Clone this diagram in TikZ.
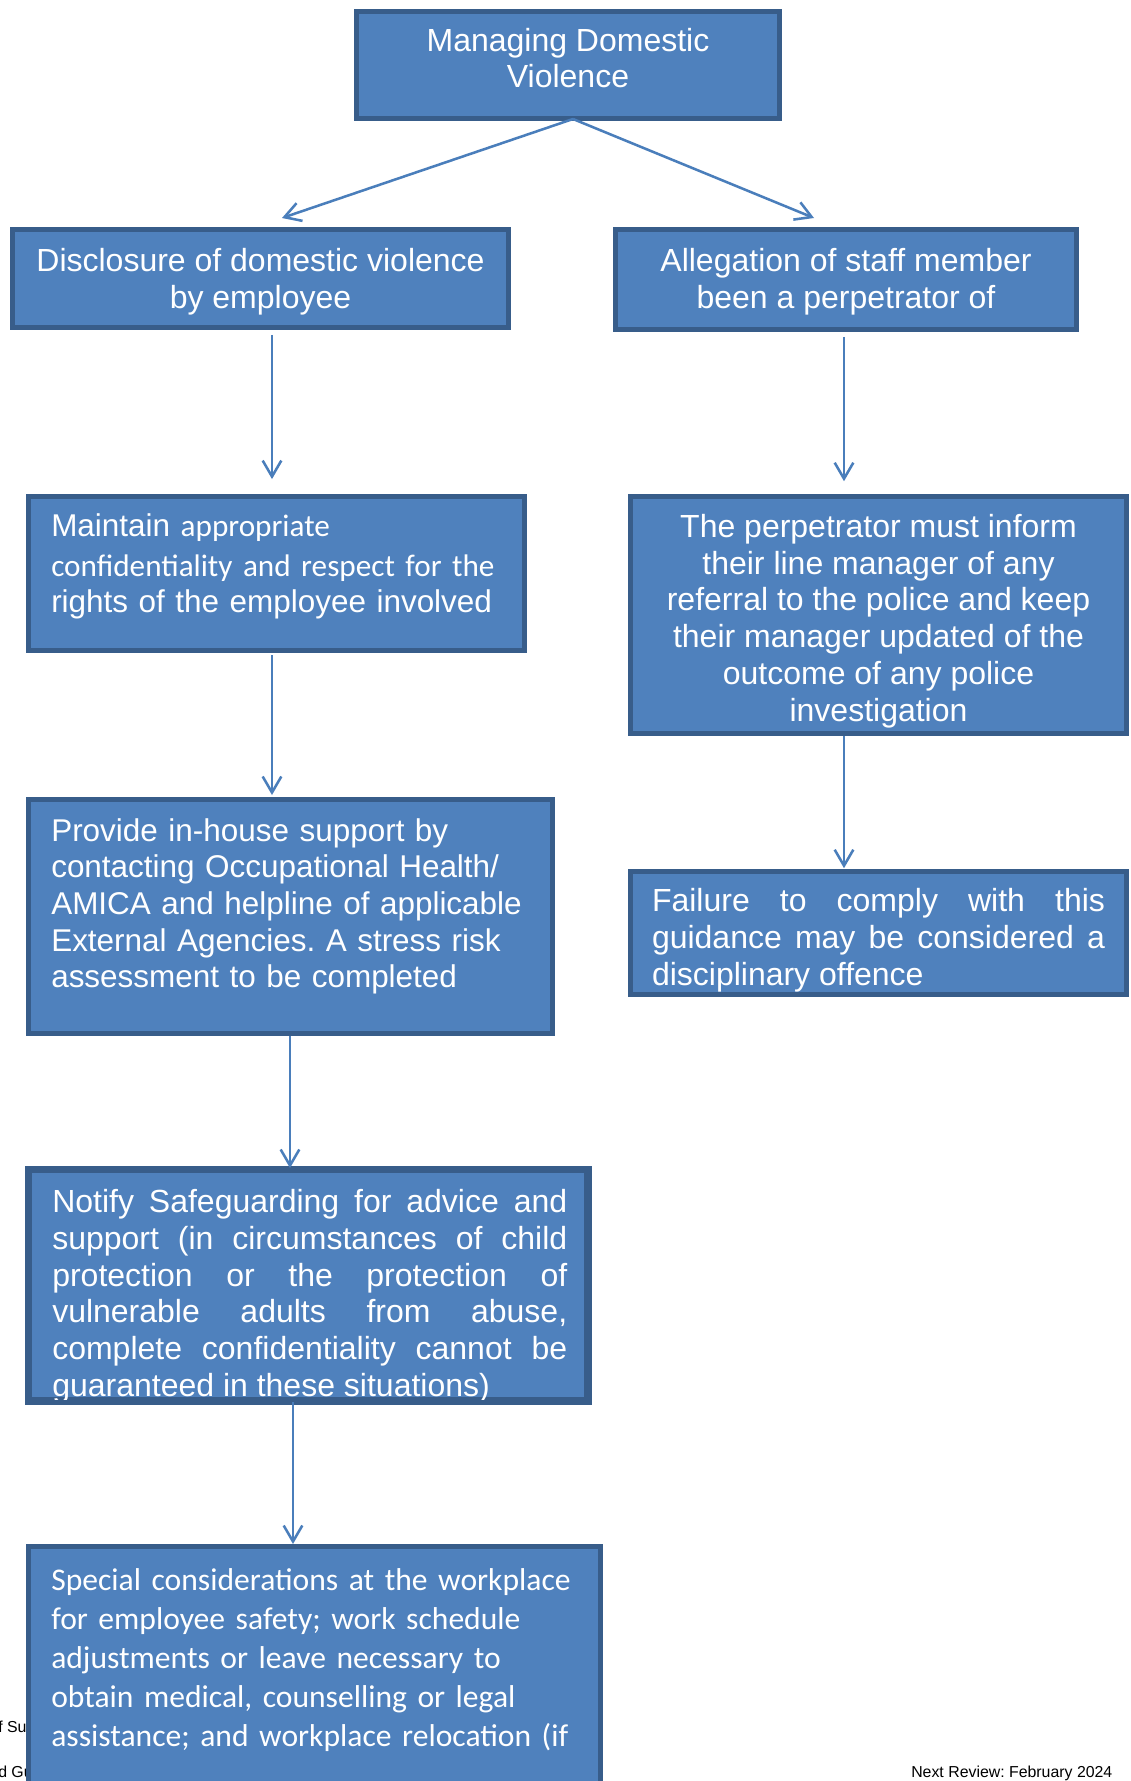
\documentclass[tikz,border=0pt]{standalone}
\usepackage{fontspec}
\setmainfont{Liberation Sans}
\newfontfamily\calib{Carlito}
\usetikzlibrary{arrows.meta}
\definecolor{boxfill}{RGB}{79,129,189}
\definecolor{boxline}{RGB}{56,93,138}
\definecolor{arrowcol}{RGB}{74,126,187}
\frenchspacing
\begin{document}
\begin{tikzpicture}[x=0.75pt,y=-0.75pt,
  box/.style={fill=boxfill, draw=boxline, line width=3.75pt, inner sep=0pt},
  boxtext/.style={text=white, inner sep=0pt, font=\frenchspacing\fontsize{24}{27.6}\selectfont},
  border/.style={draw=boxline, line width=3.75pt},
  arr/.style={draw=arrowcol, line width=1.9pt, -{Straight Barb[length=12pt,width=14pt]}},
  foot/.style={font=\fontsize{11.9}{14}\selectfont, inner sep=0pt, text=black}
]
\useasboundingbox (0,0) rectangle (1131,1781);
\clip (0,0) rectangle (1131,1781);
\fill[white] (0,0) rectangle (1131,1781);

% footer fragments (partly hidden behind the last box)
\node[foot, anchor=base west] (f1) at (-2,1732) {f Su};
\node[foot, anchor=base west] (f2) at (-2,1777) {d Gu};
\node[foot, anchor=base west] (f3) at (911,1777) {Next Review: February 2024};

% boxes and their texts
\node[box, minimum width=423*0.75pt, minimum height=107*0.75pt] (b1) at (568,65) {};
\node[boxtext, align=center] (t1) at (568,58) {Managing Domestic\\Violence};

\node[box, minimum width=496*0.75pt, minimum height=98*0.75pt] (b2) at (260.5,278.5) {};
\node[boxtext, align=center] (t2) at (260.5,282) {Disclosure of domestic violence\\by employee};

\node[box, minimum width=461*0.75pt, minimum height=100*0.75pt] (b3) at (846,279.5) {};
\node[boxtext, align=center] (t3) at (846,282) {Allegation of staff member\\been a perpetrator of};

\node[box, minimum width=496*0.75pt, minimum height=154*0.75pt] (b4) at (276.5,573.5) {};
\node[boxtext, anchor=base west, text width=480*0.75pt, align=left,
  font=\frenchspacing\fontsize{23.6}{27.5}\selectfont] (t4) at (51,536.5)
  {Maintain {\calib\fontsize{23.4}{27.5}\selectfont appropriate}\\[2.2pt]{\calib\fontsize{23.4}{27.5}\selectfont confidentiality and respect for the}\\rights of the employee involved};

\node[box, minimum width=496*0.75pt, minimum height=237*0.75pt] (b5) at (878.5,615) {};
\node[boxtext, align=center] (t5) at (878.5,621)
  {The perpetrator must inform\\their line manager of any\\referral to the police and keep\\their manager updated of the\\outcome of any police\\investigation};

\node[box, minimum width=524*0.75pt, minimum height=234*0.75pt] (b6) at (290.5,916.5) {};
\node[boxtext, anchor=base west, text width=500*0.75pt, align=left,
  font=\frenchspacing\fontsize{23.6}{27.5}\selectfont] (t6) at (51,841)
  {Provide in-house support by\\contacting Occupational Health/\\AMICA and helpline of applicable\\External Agencies. A stress risk\\assessment to be completed};

\node[box, minimum width=496*0.75pt, minimum height=123*0.75pt] (b7) at (878.5,933) {};
\node[boxtext, text width=453*0.75pt, align=justify] (t7) at (878.5,940)
  {\hyphenpenalty=10000 Failure to comply with this\linebreak guidance may be considered a\linebreak disciplinary offence};

\node[box, minimum width=557*0.75pt, minimum height=229*0.75pt] (b8) at (308,1285) {};
\node[boxtext, anchor=base west, text width=515*0.75pt, align=justify] (t8) at (52,1212.5)
  {\hyphenpenalty=10000 Notify Safeguarding for advice and\linebreak support (in circumstances of child\linebreak protection or the protection of\linebreak vulnerable adults from abuse,\linebreak complete confidentiality cannot be\linebreak guaranteed in these situations)};
\draw[border] (b8.north west) rectangle (b8.south east);

\node[box, minimum width=572*0.75pt, minimum height=400*0.75pt] (b9) at (314.5,1746.5) {};
\node[boxtext, anchor=base west, text width=540*0.75pt, align=left,
  font=\calib\frenchspacing\fontsize{23.7}{29.3}\selectfont] (t9) at (51,1590.5)
  {Special considerations at the workplace\\for employee safety; work schedule\\adjustments or leave necessary to\\obtain medical, counselling or legal\\assistance; and workplace relocation (if};

% connector reference points
\coordinate (top) at (573,119);
\coordinate (tipL) at (282,218);
\coordinate (tipR) at (814,218);
\coordinate (xA) at (272,0);
\coordinate (xB) at (844,0);
\coordinate (xC) at (290,0);
\coordinate (xD) at (293,0);

\draw[arr] (top) -- (tipL);
\draw[arr] (top) -- (tipR);
\draw[arr, shorten <=3.7pt, shorten >=11.2pt] (b2.south -| xA) -- (b4.north -| xA);
\draw[arr, shorten <=3.7pt, shorten >=9.6pt] (b3.south -| xB) -- (b5.north -| xB);
\draw[arr, shorten <=1.5pt, shorten >=1.5pt] (b4.south -| xA) -- (b6.north -| xA);
\draw[arr, shorten >=0.6pt] (b5.south -| xB) -- (b7.north -| xB);
\draw[arr] (b6.south -| xC) -- (b8.north -| xC);
\draw[arr] (b8.south -| xD) -- (b9.north -| xD);
\end{tikzpicture}
\end{document}
